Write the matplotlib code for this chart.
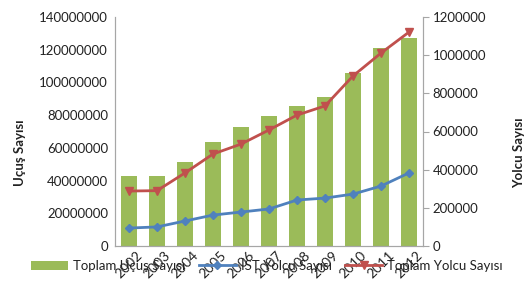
import numpy as np
import matplotlib
matplotlib.use("Agg")
from matplotlib import pyplot as plt

plt.rcParams['font.family'] = ['Lato', 'DejaVu Sans']

years = ['2002', '2003', '2004', '2005', '2006', '2007', '2008', '2009', '2010', '2011', '2012']
ucus = [42800000, 42800000, 51400000, 63600000, 72700000, 79500000, 85600000, 91000000, 106000000, 121000000, 127000000]
ist_yolcu = [94000, 100000, 131000, 162000, 178000, 194000, 241000, 251000, 272000, 314000, 383000]
toplam_yolcu = [288000, 290000, 383000, 482000, 534000, 608000, 686000, 734000, 891000, 1011000, 1121000]

txt = '#222222'
grey = '#a6a6a6'

fig = plt.figure(figsize=(5.25, 2.81), dpi=100)
ax = fig.add_axes([115/525, 1-246/281, 308/525, 229/281])
ax2 = ax.twinx()

x = np.arange(len(years))
b = ax.bar(x, ucus, width=0.58, color='#9bbb59', label='Toplam Uçuş Sayısı')
l1, = ax2.plot(x, ist_yolcu, color='#4f81bd', lw=2, marker='D', ms=4, label='İST Yolcu Sayısı')
l2, = ax2.plot(x, toplam_yolcu, color='#c0504d', lw=2, marker='v', ms=6, label='Toplam Yolcu Sayısı')

ax.set_xlim(-0.5, 10.5)
ax.set_ylim(0, 140000000)
ax.set_yticks(np.arange(0, 140000001, 20000000))
ax.set_yticklabels([str(v) for v in range(0, 140000001, 20000000)])
ax2.set_ylim(0, 1200000)
ax2.set_yticks(np.arange(0, 1200001, 200000))
ax2.set_yticklabels([str(v) for v in range(0, 1200001, 200000)])

ax.set_xticks(x)
ax.set_xticklabels(years, rotation=45, ha='center')

for a in (ax, ax2):
    a.spines['top'].set_visible(False)
    for s in ('left', 'right', 'bottom'):
        a.spines[s].set_color(grey)
    a.tick_params(labelsize=9.5, labelcolor=txt)
ax.tick_params(axis='y', length=0, pad=5)
ax.tick_params(axis='x', length=0, pad=2, labelsize=10)
ax2.tick_params(axis='y', length=4, color=grey, pad=3)

ax.set_ylabel('Uçuş Sayısı', fontsize=9.5, fontweight='bold', color=txt)
ax.yaxis.set_label_coords((26-115)/308, (246-153)/229)
ax2.set_ylabel('Yolcu Sayısı', fontsize=9.5, fontweight='bold', color=txt)
ax2.yaxis.set_label_coords((513-115)/308, (246-153)/229)

fig.legend(handles=[b, l1, l2], loc='center', bbox_to_anchor=(267/525, 1-265/281),
           ncol=3, frameon=False, fontsize=9.5, handlelength=2.8, columnspacing=1.0,
           handletextpad=0.4, labelcolor=txt)

fig.savefig('out.png', dpi=100)
